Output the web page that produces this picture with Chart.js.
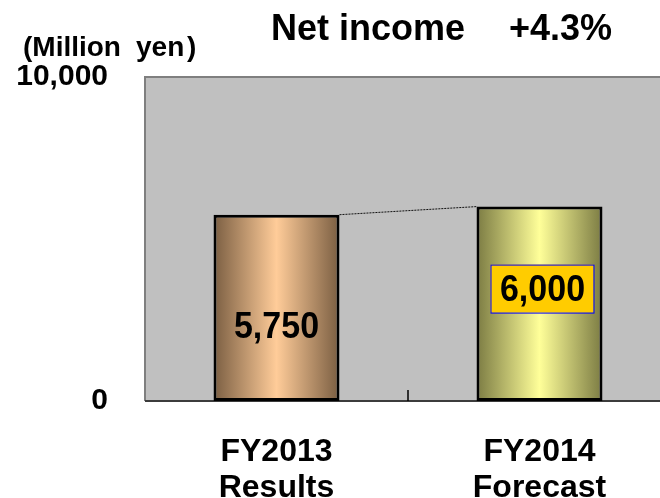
<!DOCTYPE html>
<html>
<head>
<meta charset="utf-8">
<script src="https://cdn.jsdelivr.net/npm/chart.js@4/dist/chart.umd.min.js"></script>
<style>
  html, body { margin: 0; padding: 0; background: #fff; overflow: hidden; }
  #wrap { width: 672px; height: 498px; }
</style>
</head>
<body>
<div id="wrap"><canvas id="myChart" width="672" height="498"></canvas></div>
<script>
const categories = [["FY2013", "Results"], ["FY2014", "Forecast"]];
const netIncome = [5750, 6000];
const valueLabels = ["5,750", "6,000"];
const yTicks = [0, 10000];
const titleText = ["Net income", "+4.3%"];

const FONT = "'Liberation Sans', Arial, sans-serif";

// horizontal "cylinder" shading for each bar
const shades = [
  ["#7a5e42", "#ffcc99", "#7a5e42"],
  ["#7b7b43", "#ffff99", "#7b7b43"],
];

function barFill(ctx) {
  const chart = ctx.chart;
  if (!chart.chartArea) return shades[ctx.dataIndex][1];
  const x = chart.scales.x.getPixelForValue(ctx.dataIndex);
  const half = 63;
  const g = chart.ctx.createLinearGradient(x - half, 0, x + half, 0);
  const s = shades[ctx.dataIndex];
  g.addColorStop(0, s[0]);
  g.addColorStop(0.5, s[1]);
  g.addColorStop(1, s[2]);
  return g;
}

const decorations = {
  id: "decorations",
  beforeDatasetsDraw(chart) {
    const { ctx, chartArea: a, scales } = chart;
    ctx.save();
    ctx.fillStyle = "#c0c0c0";
    ctx.fillRect(a.left, a.top, a.right - a.left, a.bottom - a.top);
    ctx.strokeStyle = "#7f7f7f";
    ctx.lineWidth = 2;
    ctx.beginPath();
    ctx.moveTo(a.left, a.bottom);
    ctx.lineTo(a.left, a.top);
    ctx.lineTo(a.right, a.top);
    ctx.stroke();
    ctx.strokeStyle = "#3c3c3c";
    ctx.beginPath();
    ctx.moveTo(a.left, a.bottom);
    ctx.lineTo(a.right, a.bottom);
    ctx.stroke();
    // inner tick between categories
    const mid = (scales.x.getPixelForValue(0) + scales.x.getPixelForValue(1)) / 2;
    ctx.strokeStyle = "#000";
    ctx.lineWidth = 1.5;
    ctx.beginPath();
    ctx.moveTo(mid, a.bottom);
    ctx.lineTo(mid, a.bottom - 11);
    ctx.stroke();
    ctx.restore();
  },
  afterDatasetsDraw(chart) {
    const { ctx } = chart;
    const bars = chart.getDatasetMeta(0).data;
    ctx.save();
    // dotted connector between bar tops
    ctx.strokeStyle = "#111";
    ctx.lineWidth = 1;
    ctx.setLineDash([2, 1]);
    ctx.beginPath();
    ctx.moveTo(bars[0].x + bars[0].width / 2, bars[0].y);
    ctx.lineTo(bars[1].x - bars[1].width / 2, bars[1].y);
    ctx.stroke();
    ctx.setLineDash([]);

    ctx.font = "bold 34px " + FONT;
    ctx.textAlign = "center";
    ctx.textBaseline = "middle";
    const offs = [111, 82];
    bars.forEach((b, i) => {
      const cy = b.y + offs[i];
      if (i === 1) {
        ctx.fillStyle = "#ffcc00";
        ctx.fillRect(b.x - 49, cy - 24, 103, 48);
        ctx.strokeStyle = "#0000ff";
        ctx.lineWidth = 1;
        ctx.strokeRect(b.x - 49 + 0.5, cy - 24 + 0.5, 103, 48);
      }
      ctx.fillStyle = "#000";
      ctx.save();
      ctx.translate(b.x + (i === 1 ? 3 : 0), cy + 2);
      ctx.scale(1, 1.08);
      ctx.fillText(valueLabels[i], 0, 0);
      ctx.restore();
    });

    ctx.textAlign = "left";
    ctx.textBaseline = "alphabetic";
    ctx.font = "bold 36px " + FONT;
    ctx.fillText(titleText[0], 271, 40);
    ctx.fillText(titleText[1], 509, 40);
    ctx.font = "bold 28px " + FONT;
    ctx.fillText("(Million", 23, 56);
    ctx.fillText("yen", 136, 56);
    ctx.fillText(")", 187, 56);
    ctx.restore();
  },
};

new Chart(document.getElementById("myChart"), {
  type: "bar",
  data: {
    labels: categories,
    datasets: [{
      data: netIncome,
      backgroundColor: barFill,
      borderColor: "#000",
      borderWidth: 3,
      borderSkipped: false,
      barPercentage: 0.479,
      categoryPercentage: 1,
    }],
  },
  options: {
    responsive: false,
    animation: false,
    layout: { padding: { top: 77, right: 1, left: 0, bottom: 0 } },
    plugins: { legend: { display: false }, tooltip: { enabled: false } },
    scales: {
      x: {
        offset: true,
        grid: { display: false, drawTicks: false },
        border: { display: false },
        ticks: { color: "#000", font: { family: FONT, size: 32, weight: "bold", lineHeight: 1.125 }, padding: 33 },
        afterFit(s) { s.height = 97; },
      },
      y: {
        min: 0,
        max: 10000,
        afterBuildTicks(s) { s.ticks = yTicks.map(v => ({ value: v })); },
        grid: { display: false, drawTicks: false },
        border: { display: false },
        ticks: {
          color: "#000",
          font: { family: FONT, size: 30, weight: "bold" },
          padding: 37,
          callback: v => v.toLocaleString("en-US"),
        },
        afterFit(s) { s.width = 145; },
      },
    },
  },
  plugins: [decorations],
});
</script>
</body>
</html>
